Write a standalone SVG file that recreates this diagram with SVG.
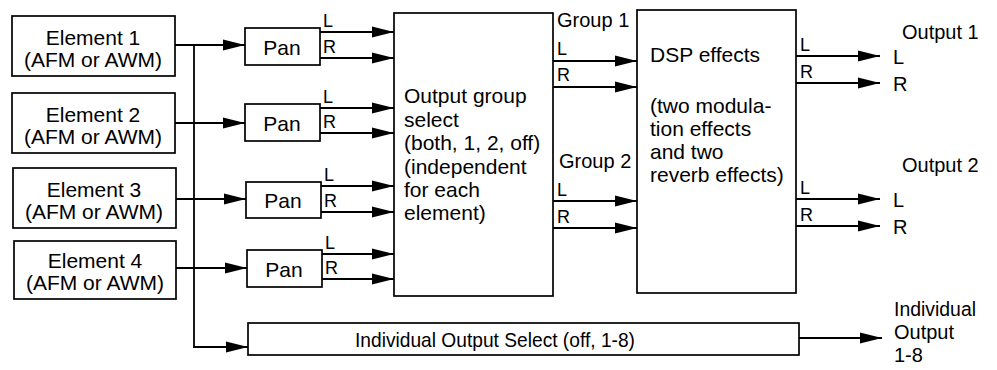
<svg xmlns="http://www.w3.org/2000/svg" width="997" height="370" viewBox="0 0 997 370">
<defs>
<marker id="ah" markerUnits="userSpaceOnUse" markerWidth="22" markerHeight="12" refX="22" refY="6" orient="auto"><path d="M0,0.5 L22,6 L0,11.5 z" fill="#000"/></marker>
</defs>
<style>
.box{fill:#fff;stroke:#000;stroke-width:1.7}
.t{font-family:"Liberation Sans",Arial,Helvetica,sans-serif;font-size:21px;fill:#000}
.c{text-anchor:middle}
.s{font-family:"Liberation Sans",Arial,Helvetica,sans-serif;font-size:18px;fill:#000}
.o{font-family:"Liberation Sans",Arial,Helvetica,sans-serif;font-size:20px;fill:#000}
.w{fill:none;stroke:#000;stroke-width:1.8}
.a{fill:none;stroke:#000;stroke-width:1.8;marker-end:url(#ah)}
</style>
<rect width="997" height="370" fill="#fff"/>

<g id="connectors">
<path class="a" d="M175,45 H245"/>
<path class="a" d="M194,45 V347 H248"/>
<path class="a" d="M175,123 H245"/>
<path class="a" d="M176,199 H246"/>
<path class="a" d="M176,268 H247"/>
<path class="a" d="M320,32 H394"/>
<path class="a" d="M320,58 H394"/>
<path class="a" d="M320,108 H394"/>
<path class="a" d="M320,133 H394"/>
<path class="a" d="M321,186 H394"/>
<path class="a" d="M321,212 H394"/>
<path class="a" d="M322,254 H394"/>
<path class="a" d="M322,279 H394"/>
<path class="a" d="M553,61 H637"/>
<path class="a" d="M553,87 H637"/>
<path class="a" d="M553,201 H637"/>
<path class="a" d="M553,228 H637"/>
<path class="a" d="M796,56 H880"/>
<path class="a" d="M796,83 H880"/>
<path class="a" d="M796,199 H880"/>
<path class="a" d="M796,226 H880"/>
<path class="a" d="M799,338 H882"/>
</g>

<g id="element1"><rect class="box" x="12" y="16" width="163" height="60"/><text class="t c" x="93" y="45">Element 1</text><text class="t c" x="93" y="67">(AFM or AWM)</text></g>
<g id="element2"><rect class="box" x="12" y="93" width="163" height="60"/><text class="t c" x="93" y="122">Element 2</text><text class="t c" x="93" y="144">(AFM or AWM)</text></g>
<g id="element3"><rect class="box" x="13" y="168" width="163" height="60"/><text class="t c" x="94" y="197">Element 3</text><text class="t c" x="94" y="219">(AFM or AWM)</text></g>
<g id="element4"><rect class="box" x="14" y="241" width="162" height="58"/><text class="t c" x="95" y="268">Element 4</text><text class="t c" x="95" y="290">(AFM or AWM)</text></g>

<g id="pan1"><rect class="box" x="245" y="28" width="75" height="37"/><text class="t c" x="282" y="55">Pan</text></g>
<g id="pan2"><rect class="box" x="245" y="104" width="75" height="37"/><text class="t c" x="282" y="131">Pan</text></g>
<g id="pan3"><rect class="box" x="246" y="182" width="75" height="36"/><text class="t c" x="283" y="208">Pan</text></g>
<g id="pan4"><rect class="box" x="247" y="250" width="75" height="37"/><text class="t c" x="284" y="277">Pan</text></g>

<g id="output-group-select"><rect class="box" x="394" y="13" width="159" height="283"/>
<text class="t" x="404" y="103">Output group</text>
<text class="t" x="404" y="127">select</text>
<text class="t" x="404" y="150">(both, 1, 2, off)</text>
<text class="t" x="404" y="174">(independent</text>
<text class="t" x="404" y="197">for each</text>
<text class="t" x="404" y="220">element)</text>
</g>

<g id="dsp-effects"><rect class="box" x="637" y="10" width="159" height="283"/>
<text class="t" x="650" y="62">DSP effects</text>
<text class="t" x="650" y="113">(two modula-</text>
<text class="t" x="650" y="136">tion effects</text>
<text class="t" x="650" y="159">and two</text>
<text class="t" x="650" y="182">reverb effects)</text>
</g>

<g id="individual-output-select"><rect class="box" x="248" y="323" width="551" height="32"/>
<text class="t" x="355" y="347" textLength="280" lengthAdjust="spacingAndGlyphs">Individual Output Select (off, 1-8)</text>
</g>

<g id="labels">
<text class="s" x="323" y="27">L</text><text class="s" x="323" y="53">R</text>
<text class="s" x="323" y="103">L</text><text class="s" x="323" y="128">R</text>
<text class="s" x="324" y="181">L</text><text class="s" x="324" y="207">R</text>
<text class="s" x="325" y="249">L</text><text class="s" x="325" y="274">R</text>
<text class="o" x="557" y="27">Group 1</text>
<text class="s" x="557" y="55">L</text><text class="s" x="557" y="81">R</text>
<text class="o" x="559" y="168">Group 2</text>
<text class="s" x="557" y="196">L</text><text class="s" x="557" y="223">R</text>
<text class="s" x="800" y="51">L</text><text class="s" x="800" y="78">R</text>
<text class="s" x="800" y="194">L</text><text class="s" x="800" y="221">R</text>
<text class="o" x="902" y="39">Output 1</text>
<text class="o" x="893" y="64">L</text><text class="o" x="893" y="91">R</text>
<text class="o" x="902" y="172">Output 2</text>
<text class="o" x="893" y="207">L</text><text class="o" x="893" y="234">R</text>
<text class="o" x="894" y="316" textLength="82" lengthAdjust="spacingAndGlyphs">Individual</text>
<text class="o" x="894" y="339">Output</text>
<text class="o" x="894" y="362">1-8</text>
</g>
</svg>
